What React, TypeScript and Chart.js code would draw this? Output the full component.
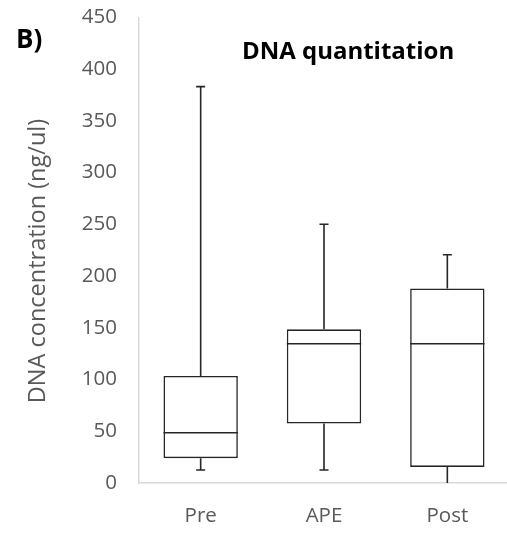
import React, { useEffect, useRef } from "react";
import { Chart, registerables } from "chart.js";

Chart.register(...registerables);

// Box-plot summary per sample group (ng/ul)
const categories = ["Pre", "APE", "Post"];
const minVals = [12.5, 12.5, 0];
const q1Vals = [24, 57.5, 15.5];
const medianVals = [48.5, 134.5, 134.5];
const q3Vals = [103.5, 148.5, 188];
const maxVals = [383, 250, 220.5];

const yTicks = [0, 50, 100, 150, 200, 250, 300, 350, 400, 450];

const FONT = "'Open Sans', 'Noto Sans', sans-serif";
const LINE = "#262626";

// Draws whiskers, caps and median lines on top of the floating box bars
const boxExtras = {
  id: "boxExtras",
  afterDatasetsDraw(chart: any) {
    const { ctx } = chart;
    const y = chart.scales.y;
    const meta = chart.getDatasetMeta(0);
    ctx.save();
    ctx.strokeStyle = LINE;
    ctx.lineWidth = 1.6;
    const cap = 4.5;
    meta.data.forEach((bar: any, i: number) => {
      const x = bar.x;
      const half = bar.width / 2;
      const yMin = y.getPixelForValue(minVals[i]);
      const yQ1 = y.getPixelForValue(q1Vals[i]);
      const yMed = y.getPixelForValue(medianVals[i]);
      const yQ3 = y.getPixelForValue(q3Vals[i]);
      const yMax = y.getPixelForValue(maxVals[i]);
      ctx.beginPath();
      // upper whisker
      ctx.moveTo(x, yQ3);
      ctx.lineTo(x, yMax);
      ctx.moveTo(x - cap, yMax);
      ctx.lineTo(x + cap, yMax);
      // lower whisker
      ctx.moveTo(x, yQ1);
      ctx.lineTo(x, yMin);
      if (minVals[i] > y.min) {
        ctx.moveTo(x - cap, yMin);
        ctx.lineTo(x + cap, yMin);
      }
      // median
      ctx.moveTo(x - half, yMed);
      ctx.lineTo(x + half, yMed);
      ctx.stroke();
    });
    ctx.restore();
  },
};

// Panel letter, in-plot heading and the value-axis caption
const headings = {
  id: "headings",
  afterDraw(chart: any) {
    const { ctx, chartArea } = chart;
    ctx.save();
    ctx.textBaseline = "middle";

    ctx.fillStyle = "#000000";
    ctx.font = `bold 24px ${FONT}`;
    ctx.textAlign = "center";
    ctx.fillText(
      "DNA quantitation",
      chartArea.left + (chartArea.right - chartArea.left) * 0.565,
      chartArea.top + 35
    );

    ctx.textAlign = "left";
    ctx.font = `bold 26px ${FONT}`;
    ctx.fillText("B)", 16, 41);

    ctx.fillStyle = "#595959";
    ctx.font = `23.5px ${FONT}`;
    ctx.textAlign = "center";
    ctx.translate(38, 261);
    ctx.rotate(-Math.PI / 2);
    ctx.fillText("DNA concentration (ng/ul)", 0, 0);
    ctx.restore();
  },
};

export default function App() {
  const ref = useRef<HTMLCanvasElement | null>(null);

  useEffect(() => {
    if (!ref.current) return;
    const chart = new Chart(ref.current, {
      type: "bar",
      data: {
        labels: categories,
        datasets: [
          {
            data: categories.map((_, i) => [q1Vals[i], q3Vals[i]]) as any,
            backgroundColor: "#ffffff",
            borderColor: LINE,
            borderWidth: 1.6,
            borderSkipped: false,
            barPercentage: 0.603,
            categoryPercentage: 1,
          },
        ],
      },
      options: {
        responsive: false,
        animation: false,
        devicePixelRatio: 1,
        layout: { padding: { top: 0, right: 1, left: 0, bottom: 0 } },
        plugins: {
          legend: { display: false },
          tooltip: { enabled: false },
          title: { display: false },
        },
        scales: {
          x: {
            offset: true,
            grid: { display: false, drawTicks: false },
            border: { display: true, color: "#d9d9d9", width: 1.5 },
            ticks: {
              color: "#595959",
              font: { family: FONT, size: 20.5 },
              padding: 21,
            },
            afterFit(scale: any) {
              scale.height = 56;
            },
          },
          y: {
            min: 0,
            max: 450,
            afterBuildTicks(scale: any) {
              scale.ticks = yTicks.map((v) => ({ value: v }));
            },
            // hidden tick marks keep the labels clear of the axis line
            grid: { display: false, drawTicks: true, tickLength: 17 },
            border: { display: true, color: "#d9d9d9", width: 1.5 },
            ticks: {
              color: "#595959",
              font: { family: FONT, size: 20.5 },
              padding: 5,
            },
            afterFit(scale: any) {
              scale.width = 139;
            },
          },
        },
      },
      plugins: [boxExtras, headings],
    });
    return () => chart.destroy();
  }, []);

  return (
    <div
      style={{
        position: "fixed",
        left: 0,
        top: 0,
        width: 507,
        height: 539,
        overflow: "hidden",
        background: "#ffffff",
      }}
    >
      <canvas ref={ref} width={510} height={539} style={{ display: "block" }} />
    </div>
  );
}
